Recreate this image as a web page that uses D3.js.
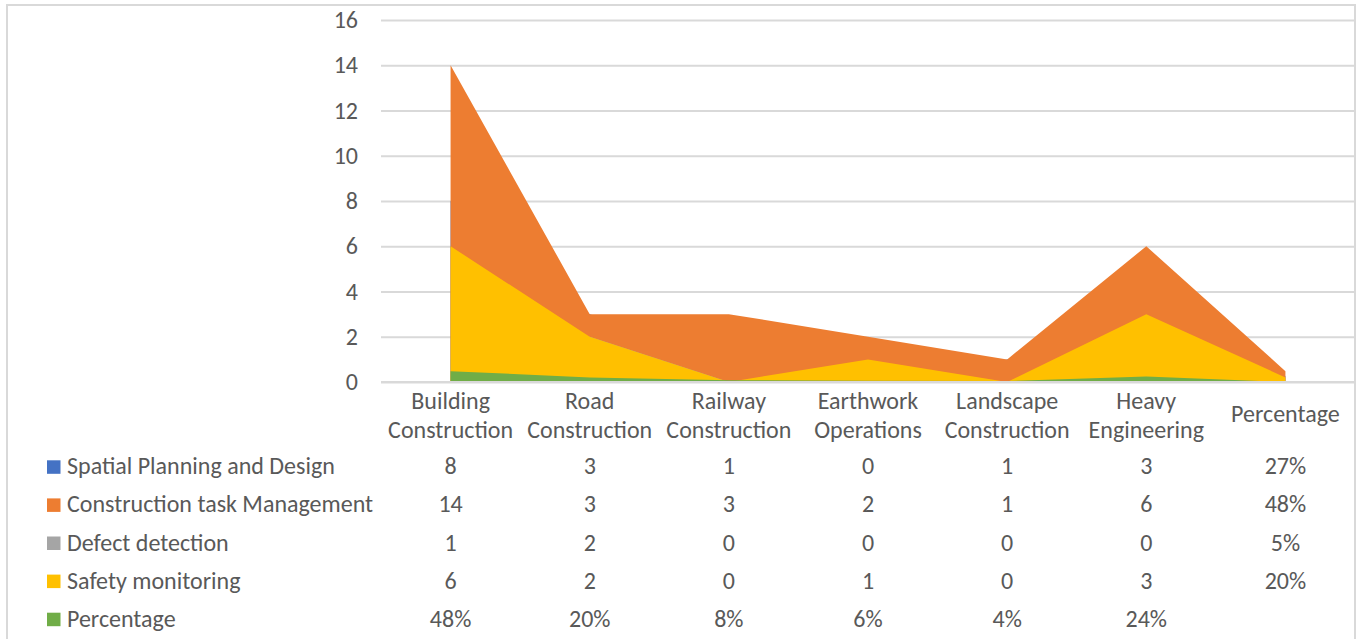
<!DOCTYPE html>
<html><head><meta charset="utf-8">
<script src="https://cdn.jsdelivr.net/npm/d3@7"></script>
<style>
body{margin:0;background:#fff;}
text{font-family:Carlito, Lato, "Open Sans", sans-serif; fill:#595959;}
</style>
</head><body>
<svg id="c" width="1364" height="639"></svg>
<script>
const categories = ["Building Construction","Road Construction","Railway Construction","Earthwork Operations","Landscape Construction","Heavy Engineering","Percentage"];
const categoryLines = [["Building","Construction"],["Road","Construction"],["Railway","Construction"],["Earthwork","Operations"],["Landscape","Construction"],["Heavy","Engineering"],["Percentage"]];
const seriesNames = ["Spatial Planning and Design","Construction task Management","Defect detection","Safety monitoring","Percentage"];
const spatialPlanning = [8,3,1,0,1,3,0.27];
const taskManagement = [14,3,3,2,1,6,0.48];
const defectDetection = [1,2,0,0,0,0,0.05];
const safetyMonitoring = [6,2,0,1,0,3,0.20];
const percentage = [0.48,0.20,0.08,0.06,0.04,0.24,null];
const seriesColors = ["#4472C4","#ED7D31","#A5A5A5","#FFC000","#70AD47"];
const yTicks = [0,2,4,6,8,10,12,14,16];

const seriesValues = [spatialPlanning, taskManagement, defectDetection, safetyMonitoring, percentage];

const svg = d3.select("#c");
const plot = {left:381, right:1355, top:20, bottom:382};
const FS = "24px";

// chart border
svg.append("rect").attr("x",7).attr("y",5).attr("width",1348).attr("height",700)
  .attr("fill","none").attr("stroke","#d9d9d9").attr("stroke-width",2);

const x = d3.scaleBand().domain(categories).range([plot.left, plot.right]).padding(0);
const y = d3.scaleLinear().domain([0,16]).range([plot.bottom, plot.top]);
const cx = c => x(c) + x.bandwidth()/2;

// gridlines + y tick labels
const yAxis = d3.axisLeft(y).tickValues(yTicks).tickSize(-(plot.right-plot.left)).tickPadding(23);
const gy = svg.append("g").attr("transform",`translate(${plot.left},0)`).call(yAxis);
gy.select(".domain").remove();
gy.selectAll(".tick line").attr("stroke","#d9d9d9").attr("stroke-width",2);
gy.selectAll(".tick text").style("font-size",FS).style("font-family","Carlito, Lato, sans-serif").attr("fill","#595959").attr("dy","0.32em");

// areas (drawn in series order, overlapping)
const area = d3.area()
  .x((d,i) => cx(categories[i]))
  .y0(y(0))
  .y1(d => y(d == null ? 0 : d));
seriesValues.forEach((vals,s) => {
  svg.append("path").datum(vals).attr("d", area).attr("fill", seriesColors[s]);
});

// x axis line
svg.append("line").attr("x1",plot.left).attr("x2",plot.right).attr("y1",y(0)).attr("y2",y(0))
  .attr("stroke","#d9d9d9").attr("stroke-width",2);

// category labels
const xAxis = d3.axisBottom(x).tickSize(0).tickFormat("");
const gx = svg.append("g").attr("transform",`translate(0,${plot.bottom})`).call(xAxis);
gx.select(".domain").remove();
gx.selectAll(".tick").each(function(c,i){
  const lines = categoryLines[i];
  const t = d3.select(this).append("text").attr("text-anchor","middle").style("font-size",FS);
  if (lines.length === 1) {
    t.append("tspan").attr("x",0).attr("y",40).text(lines[0]);
  } else {
    lines.forEach((l,k) => t.append("tspan").attr("x",0).attr("y",27 + k*29).text(l));
  }
});

// data table
const rowY = d3.scalePoint().domain(seriesNames.map((d,i)=>i)).range([474.3, 626.7]);
const pct = d3.format(".0%");
seriesNames.forEach((name,s) => {
  const yy = rowY(s);
  svg.append("rect").attr("x",47).attr("y",yy-14).attr("width",13.5).attr("height",13.5).attr("fill",seriesColors[s]);
  svg.append("text").attr("x",67).attr("y",yy).style("font-size",FS).text(name);
  seriesValues[s].forEach((v,i) => {
    if (v == null) return;
    const isPct = name === "Percentage" || categories[i] === "Percentage";
    svg.append("text").attr("x",cx(categories[i])).attr("y",yy).attr("text-anchor","middle")
      .style("font-size",FS).text(isPct ? pct(v) : v);
  });
});
</script>
</body></html>
